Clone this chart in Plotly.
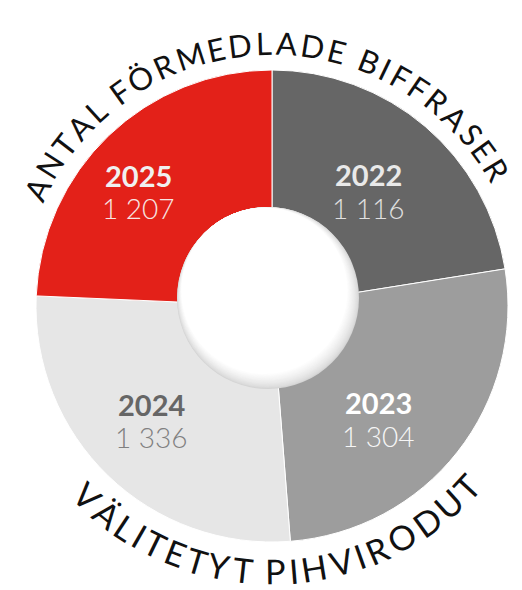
import math
import plotly.graph_objects as go

# ---- data ----
years = ["2022", "2023", "2024", "2025"]
counts = [1116, 1304, 1336, 1207]
title_top = "ANTAL FÖRMEDLADE BIFFRASER"
title_bottom = "VÄLITETYT PIHVIRODUT"

# ---- styles ----
slice_colors = ["#666666", "#9d9d9d", "#e6e6e6", "#e32119"]
year_colors = ["#e9e9e9", "#ffffff", "#666666", "#f0f0f0"]
value_colors = ["#e0e0e0", "#f6f6f6", "#808080", "#f7e4e2"]
label_angle_nudge = [-0.6, 8.5, 2.4, -5.6]   # degrees, presentation tweak
label_radius = [150, 155, 166, 176]           # px from pie centre

W, H = 522, 590
CX, CY, R = 272, 306, 236          # pie centre / radius in px
HOLE_CX, HOLE_CY, HOLE_R = 268, 298, 91
FONT = "Lato"

def px(x):
    return x / W

def py(y):
    return 1 - y / H

fig = go.Figure(go.Pie(
    labels=years, values=counts, sort=False, direction="clockwise", rotation=0,
    hole=0.33, textinfo="none", hoverinfo="label+value", showlegend=False,
    marker=dict(colors=slice_colors, line=dict(color="white", width=1)),
    domain=dict(x=[px(CX - R), px(CX + R)], y=[py(CY + R), py(CY - R)]),
))

annotations = []

# slice labels (positioned from each slice's mid angle)
total = sum(counts)
cum = 0
for k, (yr, v, yc, vc) in enumerate(zip(years, counts, year_colors, value_colors)):
    mid = (cum + v / 2) / total * 360 + label_angle_nudge[k]
    cum += v
    a = math.radians(mid)
    lx = CX + label_radius[k] * math.sin(a)
    ly = CY - label_radius[k] * math.cos(a)
    annotations.append(dict(text=yr, x=px(lx), y=py(ly - 16), xref="paper", yref="paper",
                            showarrow=False, xanchor="center", yanchor="middle",
                            font=dict(family=FONT, size=29, color=yc, weight=700)))
    annotations.append(dict(text=f"{v:,}".replace(",", " "), x=px(lx), y=py(ly + 17),
                            xref="paper", yref="paper", showarrow=False,
                            xanchor="center", yanchor="middle",
                            font=dict(family=FONT, size=28, color=vc, weight=300)))

# curved titles
CHAR_W = {"A": .68, "B": .645, "D": .74, "E": .55, "F": .535, "H": .755, "I": .28,
          "L": .49, "M": .895, "N": .755, "O": .79, "Ö": .79, "Ä": .68, "P": .60,
          "R": .625, "S": .52, "T": .565, "U": .72, "V": .68, "Y": .625, " ": .193}

def arc_text(text, r, a_start, a_end, size, top):
    widths = [CHAR_W.get(c, .6) * size for c in text]
    centers, s = [], 0
    for w in widths:
        centers.append(s + w / 2)
        s += w
    span = r * math.radians(abs(a_end - a_start))
    track = (span - (centers[-1] - centers[0])) / (len(text) - 1)
    for i, c in enumerate(text):
        if c == " ":
            continue
        d = centers[i] - centers[0] + i * track
        ang = a_start + math.degrees(d / r) * (1 if top else -1)
        ar = math.radians(ang)
        x = CX + r * math.sin(ar)
        y = CY - r * math.cos(ar)
        rot = ang if top else ang - 180
        annotations.append(dict(text=c, x=px(x), y=py(y), xref="paper", yref="paper",
                                showarrow=False, xanchor="center", yanchor="middle",
                                textangle=rot, borderpad=0,
                                font=dict(family=FONT, size=size, color="#111111")))

arc_text(title_top, 263, -63.5, 58.8, 31, True)
arc_text(title_bottom, 265, 224.2, 132.8, 34, False)

# centre disc with soft shading towards lower right
shapes = []
N = 16
ux, uy = -0.45, -0.893
for i in range(N + 1):
    t = i / N
    shift = 8 * t
    r = HOLE_R - shift
    cx = HOLE_CX + shift * ux
    cy = HOLE_CY + shift * uy
    g = int(round(212 + (255 - 212) * (t ** 0.7)))
    col = f"rgb({g},{g},{g})"
    shapes.append(dict(type="circle", xref="paper", yref="paper", layer="above",
                       x0=px(cx - r), x1=px(cx + r), y0=py(cy + r), y1=py(cy - r),
                       fillcolor=col, line=dict(width=0)))

fig.update_layout(width=W, height=H, margin=dict(l=0, r=0, t=0, b=0),
                  paper_bgcolor="white", plot_bgcolor="white",
                  annotations=annotations, shapes=shapes)

fig.write_html("out.html", config={"displayModeBar": False},
               post_script="document.body.style.margin='0';")
